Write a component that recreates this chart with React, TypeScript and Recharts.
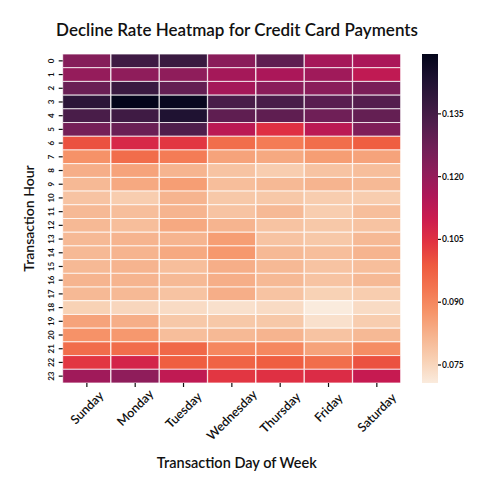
import React from "react";
import { BarChart, Bar, Cell, XAxis, YAxis, Label } from "recharts";

const DAYS = ["Sunday", "Monday", "Tuesday", "Wednesday", "Thursday", "Friday", "Saturday"];
const HOURS = [0, 1, 2, 3, 4, 5, 6, 7, 8, 9, 10, 11, 12, 13, 14, 15, 16, 17, 18, 19, 20, 21, 22, 23];

// decline rate per hour (0..23) for each day
const SUNDAY = [0.123, 0.12, 0.128, 0.14, 0.134, 0.126, 0.1, 0.088, 0.083, 0.081, 0.079, 0.081, 0.081, 0.081, 0.081, 0.081, 0.082, 0.081, 0.076, 0.085, 0.088, 0.095, 0.104, 0.118];
const MONDAY = [0.136, 0.121, 0.137, 0.1493, 0.136, 0.128, 0.107, 0.095, 0.085, 0.084, 0.077, 0.08, 0.08, 0.082, 0.082, 0.082, 0.082, 0.081, 0.075, 0.083, 0.087, 0.095, 0.108, 0.121];
const TUESDAY = [0.137, 0.121, 0.129, 0.148, 0.143, 0.133, 0.104, 0.092, 0.082, 0.086, 0.082, 0.082, 0.084, 0.082, 0.084, 0.08, 0.081, 0.079, 0.074, 0.078, 0.08, 0.096, 0.098, 0.112];
const WEDNESDAY = [0.122, 0.117, 0.117, 0.134, 0.13, 0.113, 0.095, 0.085, 0.079, 0.08, 0.078, 0.079, 0.082, 0.086, 0.087, 0.083, 0.083, 0.083, 0.073, 0.078, 0.081, 0.09, 0.097, 0.104];
const THURSDAY = [0.13, 0.116, 0.122, 0.134, 0.13, 0.105, 0.092, 0.084, 0.077, 0.081, 0.078, 0.081, 0.079, 0.079, 0.081, 0.081, 0.081, 0.079, 0.074, 0.078, 0.082, 0.09, 0.098, 0.105];
const FRIDAY = [0.117, 0.118, 0.122, 0.131, 0.127, 0.113, 0.095, 0.086, 0.079, 0.082, 0.077, 0.077, 0.078, 0.078, 0.08, 0.079, 0.079, 0.076, 0.0707, 0.073, 0.079, 0.085, 0.095, 0.106];
const SATURDAY = [0.116, 0.112, 0.125, 0.132, 0.129, 0.124, 0.098, 0.085, 0.08, 0.081, 0.077, 0.08, 0.079, 0.081, 0.082, 0.08, 0.081, 0.077, 0.074, 0.077, 0.081, 0.089, 0.1, 0.111];

const RATES = [SUNDAY, MONDAY, TUESDAY, WEDNESDAY, THURSDAY, FRIDAY, SATURDAY];
const COLORBAR_TICKS = [0.075, 0.09, 0.105, 0.12, 0.135];

const VMIN = Math.min(...RATES.flat());
const VMAX = Math.max(...RATES.flat());

// seaborn "rocket" colormap anchors (dark -> light)
const ROCKET = [
  "#03051a", "#1c1130", "#35193e", "#511e4d", "#701f57", "#8e1d5b", "#ad1759",
  "#cb1b4f", "#e13342", "#ee5a3f", "#f37651", "#f6956a", "#f6b48f", "#f8d0b3", "#faebdd",
];

const hex = (c: string) => [1, 3, 5].map((i) => parseInt(c.slice(i, i + 2), 16));

const rocket = (s: number) => {
  const p = Math.max(0, Math.min(1, s)) * (ROCKET.length - 1);
  const i = Math.min(Math.floor(p), ROCKET.length - 2);
  const f = p - i;
  const a = hex(ROCKET[i]);
  const b = hex(ROCKET[i + 1]);
  const rgb = a.map((v, k) => Math.round(v + (b[k] - v) * f));
  return `rgb(${rgb.join(",")})`;
};

// reversed: low rate = light, high rate = dark
const rocketR = (v: number) => rocket(1 - (v - VMIN) / (VMAX - VMIN));

const chartData = DAYS.map((day) => {
  const row: Record<string, any> = { day };
  HOURS.forEach((h) => {
    row[`h${h}`] = 1;
  });
  return row;
});

const colorbarData = [{ name: "rate", range: [VMIN, VMAX] }];

const FONT = "Lato, 'Open Sans', sans-serif";

const DayTick = (props: any) => {
  const { x, y, payload } = props;
  const fs = 12.5;
  const len = String(payload.value).length * fs * 0.55;
  const dy = (len * 0.707) / 2 + 4;
  return (
    <text
      x={x}
      y={y + dy}
      transform={`rotate(-45, ${x}, ${y + dy})`}
      textAnchor="middle"
      dominantBaseline="central"
      fontSize={fs}
      fontWeight={600}
      fontFamily={FONT}
      fill="#111"
    >
      {payload.value}
    </text>
  );
};

const HourTick = (props: any) => {
  const { x, y, payload } = props;
  return (
    <text
      x={x - 3}
      y={y}
      transform={`rotate(-90, ${x - 3}, ${y})`}
      textAnchor="middle"
      fontSize={8}
      fontWeight={700}
      fontFamily={FONT}
      fill="#111"
    >
      {Math.floor(payload.value)}
    </text>
  );
};

const App: React.FC = () => {
  return (
    <div
      style={{
        position: "fixed",
        left: 0,
        top: 0,
        width: 491,
        height: 491,
        background: "#fff",
        overflow: "hidden",
      }}
    >
      <div
        style={{
          position: "absolute",
          top: 20,
          left: 0,
          width: 474,
          textAlign: "center",
          fontFamily: FONT,
          fontSize: 17,
          fontWeight: 600,
          lineHeight: "20px",
          color: "#111",
        }}
      >
        Decline Rate Heatmap for Credit Card Payments
      </div>

      <div style={{ position: "absolute", left: 0, top: 0 }}>
        <BarChart
          width={491}
          height={491}
          data={chartData}
          margin={{ top: 54, right: 90, bottom: 28, left: 0 }}
          barCategoryGap={0}
          barGap={0}
        >
          <XAxis
            dataKey="day"
            type="category"
            height={80}
            axisLine={false}
            tickLine={{ stroke: "#111", strokeWidth: 1.2 }}
            tickSize={4}
            tick={<DayTick />}
            interval={0}
          >
            <Label
              content={(p: any) => {
                const vb = p.viewBox;
                return (
                  <text
                    x={vb.x + vb.width / 2 + 5}
                    y={vb.y + 85}
                    textAnchor="middle"
                    fontSize={14.5}
                    fontWeight={600}
                    fontFamily={FONT}
                    fill="#111"
                  >
                    Transaction Day of Week
                  </text>
                );
              }}
            />
          </XAxis>
          <YAxis
            type="number"
            domain={[0, 24]}
            reversed
            width={62.7}
            ticks={HOURS.map((h) => h + 0.5)}
            interval={0}
            axisLine={false}
            tickLine={{ stroke: "#111", strokeWidth: 1.2 }}
            tickSize={4}
            tick={<HourTick />}
          >
            <Label
              content={(p: any) => {
                const vb = p.viewBox;
                const cx = 28;
                const cy = vb.y + vb.height / 2;
                return (
                  <text
                    x={cx}
                    y={cy}
                    transform={`rotate(-90, ${cx}, ${cy})`}
                    textAnchor="middle"
                    dominantBaseline="central"
                    fontSize={14}
                    fontWeight={600}
                    fontFamily={FONT}
                    fill="#111"
                  >
                    Transaction Hour
                  </text>
                );
              }}
            />
          </YAxis>
          {HOURS.map((h) => (
            <Bar key={h} dataKey={`h${h}`} stackId="a" isAnimationActive={false}>
              {DAYS.map((d, i) => (
                <Cell
                  key={`${d}-${h}`}
                  fill={rocketR(RATES[i][h])}
                  stroke="#fff"
                  strokeOpacity={0.75}
                  strokeWidth={1}
                />
              ))}
            </Bar>
          ))}
        </BarChart>
      </div>

      <div style={{ position: "absolute", left: 0, top: 0, pointerEvents: "none" }}>
        <BarChart
          width={491}
          height={491}
          data={colorbarData}
          margin={{ top: 54, right: 13, bottom: 108, left: 422 }}
          barCategoryGap={0}
        >
          <defs>
            <linearGradient id="rocketGrad" x1="0" y1="0" x2="0" y2="1">
              {ROCKET.map((c, i) => (
                <stop key={c} offset={i / (ROCKET.length - 1)} stopColor={c} />
              ))}
            </linearGradient>
          </defs>
          <XAxis dataKey="name" hide />
          <YAxis
            orientation="right"
            type="number"
            domain={[VMIN, VMAX]}
            width={40}
            ticks={COLORBAR_TICKS}
            interval={0}
            axisLine={false}
            tickLine={{ stroke: "#111", strokeWidth: 1.2 }}
            tickSize={3}
            tickMargin={1}
            tickFormatter={(v: number) => v.toFixed(3)}
            tick={{ fontSize: 8.5, fontWeight: 700, fontFamily: FONT, fill: "#111" }}
          />
          <Bar dataKey="range" fill="url(#rocketGrad)" isAnimationActive={false} />
        </BarChart>
      </div>
    </div>
  );
};

export default App;
